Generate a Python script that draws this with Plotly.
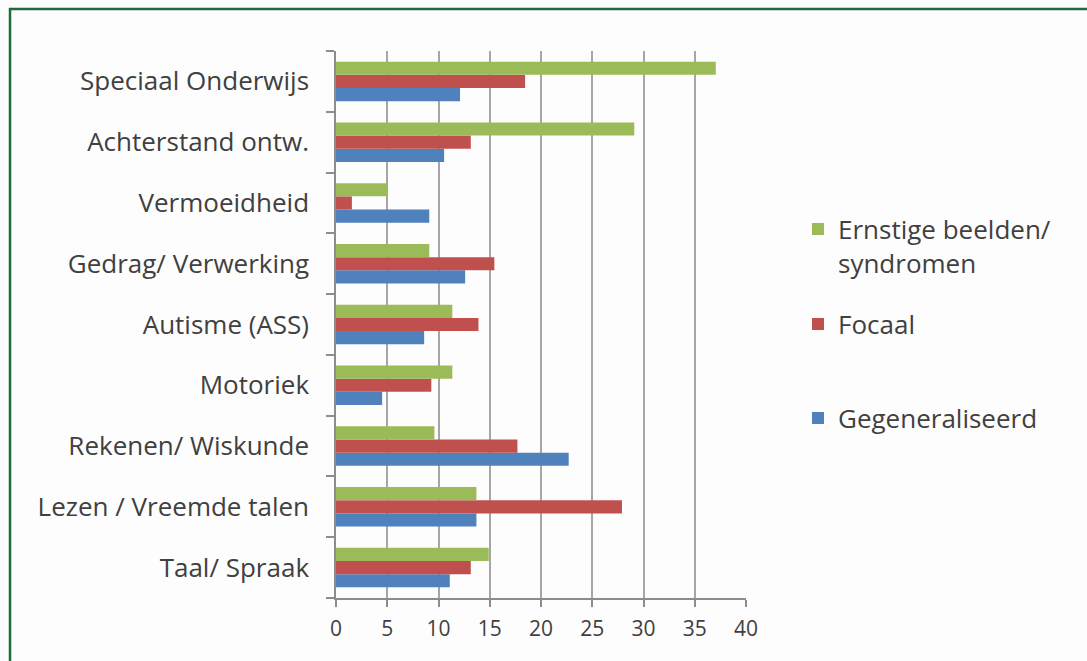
import plotly.graph_objects as go

categories = ["Taal/ Spraak", "Lezen / Vreemde talen", "Rekenen/ Wiskunde", "Motoriek",
              "Autisme (ASS)", "Gedrag/ Verwerking", "Vermoeidheid", "Achterstand ontw.",
              "Speciaal Onderwijs"]
gegeneraliseerd = [11.1, 13.7, 22.7, 4.5, 8.6, 12.6, 9.1, 10.55, 12.1]
focaal = [13.15, 27.9, 17.7, 9.3, 13.9, 15.45, 1.55, 13.15, 18.45]
ernstig = [14.9, 13.7, 9.6, 11.35, 11.35, 9.1, 5.0, 29.1, 37.05]
x_ticks = [0, 5, 10, 15, 20, 25, 30, 35, 40]

W, H = 1087, 661
L, R, T, B = 336, 341, 51, 63
PW, PH = W - L - R, H - T - B

def px(x):
    return (x - L) / PW

def py(y):
    return 1 - (y - T) / PH

FONT = "Open Sans"
TXT = "#404040"

fig = go.Figure()
fig.add_trace(go.Bar(y=categories, x=gegeneraliseerd, orientation="h", name="Gegeneraliseerd",
                     marker=dict(color="#4f81bd", line=dict(width=0)), legend="legend3"))
fig.add_trace(go.Bar(y=categories, x=focaal, orientation="h", name="Focaal",
                     marker=dict(color="#c0504d", line=dict(width=0)), legend="legend2"))
fig.add_trace(go.Bar(y=categories, x=ernstig, orientation="h", name="Ernstige beelden/<br>syndromen",
                     marker=dict(color="#9bbb59", line=dict(width=0)), legend="legend"))

leg_common = dict(font=dict(family=FONT, size=26, color=TXT), bgcolor="rgba(0,0,0,0)",
                  xanchor="left", yanchor="middle", x=px(798), itemwidth=30)

fig.update_layout(
    width=W, height=H,
    margin=dict(l=L, r=R, t=T, b=B, pad=0),
    paper_bgcolor="#fdfdfd", plot_bgcolor="#fdfdfd",
    barmode="group", bargap=0.35, bargroupgap=0,
    font=dict(family=FONT, color=TXT),
    showlegend=True,
    legend=dict(**leg_common, y=py(246), valign="top"),
    legend2=dict(**leg_common, y=py(324)),
    legend3=dict(**leg_common, y=py(418)),
    xaxis=dict(range=[0, 40], tickvals=x_ticks, ticktext=[str(v) for v in x_ticks],
               showgrid=True, gridcolor="#a6a6a6", gridwidth=1.5,
               showline=True, linecolor="#8c8c8c", linewidth=1.5,
               ticks="outside", ticklen=7, tickcolor="#8c8c8c", tickwidth=1.5,
               tickfont=dict(family=FONT, size=21, color=TXT), ticklabelstandoff=4,
               zeroline=False, fixedrange=True),
    yaxis=dict(type="category", categoryorder="array", categoryarray=categories,
               showgrid=False, showline=True, linecolor="#8c8c8c", linewidth=1.5,
               ticks="outside", tickson="boundaries", ticklen=8, tickcolor="#8c8c8c", tickwidth=1.5,
               tickfont=dict(family=FONT, size=26, color=TXT), ticklabelstandoff=20,
               fixedrange=True),
    shapes=[
        dict(type="line", xref="paper", yref="paper", x0=px(9), x1=px(1090), y0=py(9), y1=py(9),
             line=dict(color="#1e6b3c", width=2.5)),
        dict(type="line", xref="paper", yref="paper", x0=px(10), x1=px(10), y0=py(8), y1=py(670),
             line=dict(color="#1e6b3c", width=2.5)),
    ],
)

fig.write_html("out.html")
